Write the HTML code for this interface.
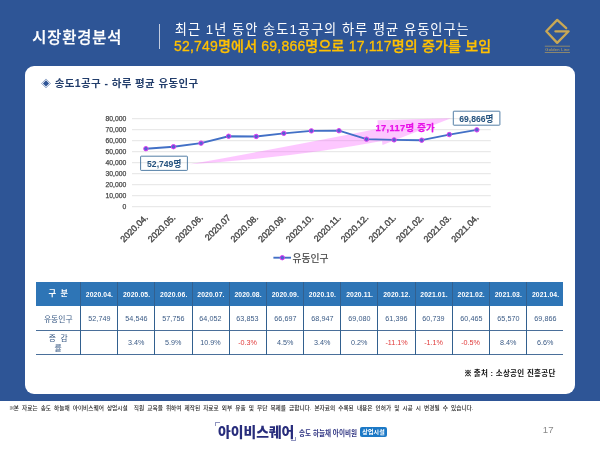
<!DOCTYPE html>
<html lang="ko">
<head>
<meta charset="utf-8">
<title>시장환경분석</title>
<style>
html,body{margin:0;padding:0;}
body{width:600px;height:450px;overflow:hidden;background:#fff;font-family:"Liberation Sans","Noto Sans CJK KR",sans-serif;}
#page{position:relative;width:600px;height:450px;overflow:hidden;background:#fff;}
#page *{box-sizing:border-box;}
.blue{position:absolute;left:0;top:0;width:600px;height:400.6px;background:#2e5596;}
.panel{position:absolute;left:25.2px;top:66.2px;width:549.5px;height:328px;background:#fff;border-radius:9px;}
.t{position:absolute;white-space:nowrap;line-height:1;}
.title{left:32.2px;top:29.7px;font-size:15.4px;font-weight:500;color:#fff;letter-spacing:0.85px;-webkit-text-stroke:0.25px #fff;}
.sep{position:absolute;left:159px;top:23.5px;width:1px;height:25.5px;background:#c3cce0;}
.h1{left:174.8px;top:22.6px;font-size:13.2px;color:#fff;letter-spacing:1.03px;}
.h2{left:174px;top:38.5px;font-size:14px;font-weight:500;color:#ffc000;letter-spacing:0.2px;-webkit-text-stroke:0.3px #ffc000;}
.ptitle{left:41.4px;top:78px;font-size:10.5px;font-weight:700;color:#223d6b;letter-spacing:0.38px;}
.ptitle span{display:inline-block;font-size:9.6px;color:#2f5597;font-weight:400;width:10.1px;letter-spacing:0;vertical-align:0.3px;}
.chart{position:absolute;left:0;top:0;}
.yl{font-size:6.8px;fill:#4a4a4a;stroke:#4a4a4a;stroke-width:0.25px;font-family:"Liberation Sans","Noto Sans CJK KR",sans-serif;}
.xl{font-size:8.9px;fill:#4a4a4a;stroke:#4a4a4a;stroke-width:0.4px;font-family:"Liberation Sans","Noto Sans CJK KR",sans-serif;}
.lg{font-size:9.8px;fill:#484848;stroke:#484848;stroke-width:0.2px;font-family:"Liberation Sans","Noto Sans CJK KR",sans-serif;}
.bx{font-size:8.6px;font-weight:700;fill:#24527f;font-family:"Liberation Sans","Noto Sans CJK KR",sans-serif;}
.inc{font-size:9.3px;font-weight:700;fill:#e811e8;stroke:#e811e8;stroke-width:0.25px;font-family:"Liberation Sans","Noto Sans CJK KR",sans-serif;letter-spacing:0.33px;}
.thead{position:absolute;left:36px;top:282px;width:527.3px;height:24px;background:#2e75b6;}
.hl{position:absolute;left:36px;width:527.3px;height:1px;background:#4a6f9a;}
.vl{position:absolute;top:282px;width:1px;height:72.5px;background:#32608f;}
.c{position:absolute;display:flex;align-items:center;justify-content:center;text-align:center;white-space:nowrap;line-height:1;}
.h0{color:#fff;font-weight:700;font-size:8.2px;letter-spacing:1.1px;padding-left:1px;}
.h{color:#fff;font-weight:700;font-size:6.8px;padding-top:2.4px;letter-spacing:0.1px;padding-left:0.6px;}
.r{color:#3a5a85;font-size:7.8px;padding-top:2.4px;}
.r2{line-height:1.28;letter-spacing:1.2px;padding-top:3.2px;padding-left:1px;}
.d{color:#3a5a85;font-size:8.1px;padding-top:0.6px;}
.d b{display:inline-block;font-weight:400;transform:scaleX(0.89);}
.d.n{color:#e03a3a;}
.src span{-webkit-text-stroke:0.35px #111;margin-right:-0.8px;}
.src{right:44.3px;top:369.8px;font-size:7.5px;font-weight:700;color:#111;letter-spacing:0.3px;}
.note{left:9px;top:405.8px;font-size:5.65px;font-weight:500;color:#262626;letter-spacing:0px;word-spacing:1.5px;white-space:pre;}
.note span{margin-right:-0.9px;}
.pg{left:542.8px;top:424.8px;font-size:9.6px;color:#8a8a8a;}
.f1{left:218px;top:425.6px;font-size:13.2px;font-weight:900;color:#282d7c;transform-origin:0 0;transform:scaleX(1.048);}
.fb{position:absolute;width:4.8px;height:4.4px;border:0 solid #8f94bf;}
.f2{left:299.4px;top:429.6px;font-size:7.6px;font-weight:700;color:#2f3482;transform-origin:0 0;transform:scaleX(0.865);}
.f3{left:360px;top:426.6px;width:27.2px;height:10px;background:#1c79c6;border-radius:2px;color:#fff;font-size:6px;font-weight:700;text-align:center;line-height:11.2px;letter-spacing:0.15px;}
.logo{position:absolute;left:540px;top:14px;}
.gl{font-family:"Liberation Sans",sans-serif;font-size:4.1px;letter-spacing:0.22px;fill:#c9a855;}
</style>
</head>
<body>
<div id="page">
<div class="blue"></div>
<div class="panel"></div>
<div class="t title">시장환경분석</div>
<div class="sep"></div>
<div class="t h1">최근 1년 동안 송도1공구의 하루 평균 유동인구는</div>
<div class="t h2">52,749명에서 69,866명으로 17,117명의 증가를 보임</div>
<svg class="logo" width="36" height="42" viewBox="540 14 36 42">
<path d="M566.2 28.2 L557.2 19.9 L546.3 31.3 L557.2 42.9 L568.6 31.3 L555.4 31.3" fill="none" stroke="#c9a855" stroke-width="2.3" stroke-linejoin="round" stroke-linecap="round"/>
<line x1="544.8" x2="570" y1="46.2" y2="46.2" stroke="#c9a855" stroke-width="0.6"/>
<line x1="544.8" x2="570" y1="52.5" y2="52.5" stroke="#c9a855" stroke-width="0.6"/>
<text x="557.6" y="50.75" text-anchor="middle" class="gl">Golden Line</text>
</svg>
<div class="t ptitle"><span>◈</span> 송도1공구 - 하루 평균 유동인구</div>
<svg class="chart" width="600" height="450" viewBox="0 0 600 450">
<line x1="132" x2="490.8" y1="206.70" y2="206.70" stroke="#e2e2e2" stroke-width="0.9"/>
<text x="126.3" y="209.40" text-anchor="end" class="yl">0</text>
<line x1="132" x2="490.8" y1="195.70" y2="195.70" stroke="#e2e2e2" stroke-width="0.9"/>
<text x="126.3" y="198.40" text-anchor="end" class="yl">10,000</text>
<line x1="132" x2="490.8" y1="184.70" y2="184.70" stroke="#e2e2e2" stroke-width="0.9"/>
<text x="126.3" y="187.40" text-anchor="end" class="yl">20,000</text>
<line x1="132" x2="490.8" y1="173.70" y2="173.70" stroke="#e2e2e2" stroke-width="0.9"/>
<text x="126.3" y="176.40" text-anchor="end" class="yl">30,000</text>
<line x1="132" x2="490.8" y1="162.70" y2="162.70" stroke="#e2e2e2" stroke-width="0.9"/>
<text x="126.3" y="165.40" text-anchor="end" class="yl">40,000</text>
<line x1="132" x2="490.8" y1="151.70" y2="151.70" stroke="#e2e2e2" stroke-width="0.9"/>
<text x="126.3" y="154.40" text-anchor="end" class="yl">50,000</text>
<line x1="132" x2="490.8" y1="140.70" y2="140.70" stroke="#e2e2e2" stroke-width="0.9"/>
<text x="126.3" y="143.40" text-anchor="end" class="yl">60,000</text>
<line x1="132" x2="490.8" y1="129.70" y2="129.70" stroke="#e2e2e2" stroke-width="0.9"/>
<text x="126.3" y="132.40" text-anchor="end" class="yl">70,000</text>
<line x1="132" x2="490.8" y1="118.70" y2="118.70" stroke="#e2e2e2" stroke-width="0.9"/>
<text x="126.3" y="121.40" text-anchor="end" class="yl">80,000</text>
<path d="M190 164.3 Q290 146.3 378 128.8 L377.5 120.3 L451 118.3 L382.5 145 L382 141 Q295 157.3 190 164.3 Z" fill="#f95cff" fill-opacity="0.34"/>
<polyline points="145.89,148.68 173.47,146.70 201.05,143.17 228.63,136.24 256.21,136.46 283.79,133.33 311.37,130.86 338.95,130.71 366.53,139.16 394.11,139.89 421.69,140.19 449.27,134.57 476.85,129.85" fill="none" stroke="#4270c6" stroke-width="1.9" stroke-linejoin="round" stroke-linecap="round"/>
<circle cx="145.89" cy="148.68" r="2.2" fill="#5560d2" stroke="#e03df2" stroke-width="1"/>
<circle cx="173.47" cy="146.70" r="2.2" fill="#5560d2" stroke="#e03df2" stroke-width="1"/>
<circle cx="201.05" cy="143.17" r="2.2" fill="#5560d2" stroke="#e03df2" stroke-width="1"/>
<circle cx="228.63" cy="136.24" r="2.2" fill="#5560d2" stroke="#e03df2" stroke-width="1"/>
<circle cx="256.21" cy="136.46" r="2.2" fill="#5560d2" stroke="#e03df2" stroke-width="1"/>
<circle cx="283.79" cy="133.33" r="2.2" fill="#5560d2" stroke="#e03df2" stroke-width="1"/>
<circle cx="311.37" cy="130.86" r="2.2" fill="#5560d2" stroke="#e03df2" stroke-width="1"/>
<circle cx="338.95" cy="130.71" r="2.2" fill="#5560d2" stroke="#e03df2" stroke-width="1"/>
<circle cx="366.53" cy="139.16" r="2.2" fill="#5560d2" stroke="#e03df2" stroke-width="1"/>
<circle cx="394.11" cy="139.89" r="2.2" fill="#5560d2" stroke="#e03df2" stroke-width="1"/>
<circle cx="421.69" cy="140.19" r="2.2" fill="#5560d2" stroke="#e03df2" stroke-width="1"/>
<circle cx="449.27" cy="134.57" r="2.2" fill="#5560d2" stroke="#e03df2" stroke-width="1"/>
<circle cx="476.85" cy="129.85" r="2.2" fill="#5560d2" stroke="#e03df2" stroke-width="1"/>
<text transform="translate(148.39 218.20) rotate(-45)" text-anchor="end" class="xl">2020.04.</text>
<text transform="translate(175.97 218.20) rotate(-45)" text-anchor="end" class="xl">2020.05.</text>
<text transform="translate(203.55 218.20) rotate(-45)" text-anchor="end" class="xl">2020.06.</text>
<text transform="translate(231.13 218.20) rotate(-45)" text-anchor="end" class="xl">2020.07</text>
<text transform="translate(258.71 218.20) rotate(-45)" text-anchor="end" class="xl">2020.08.</text>
<text transform="translate(286.29 218.20) rotate(-45)" text-anchor="end" class="xl">2020.09.</text>
<text transform="translate(313.87 218.20) rotate(-45)" text-anchor="end" class="xl">2020.10.</text>
<text transform="translate(341.45 218.20) rotate(-45)" text-anchor="end" class="xl">2020.11.</text>
<text transform="translate(369.03 218.20) rotate(-45)" text-anchor="end" class="xl">2020.12.</text>
<text transform="translate(396.61 218.20) rotate(-45)" text-anchor="end" class="xl">2021.01.</text>
<text transform="translate(424.19 218.20) rotate(-45)" text-anchor="end" class="xl">2021.02.</text>
<text transform="translate(451.77 218.20) rotate(-45)" text-anchor="end" class="xl">2021.03.</text>
<text transform="translate(479.35 218.20) rotate(-45)" text-anchor="end" class="xl">2021.04.</text>
<line x1="273.4" x2="291" y1="257.7" y2="257.7" stroke="#4270c6" stroke-width="1.9"/>
<circle cx="282.3" cy="257.7" r="2.2" fill="#5560d2" stroke="#e03df2" stroke-width="1"/>
<text x="292.5" y="262" class="lg">유동인구</text>
<rect x="140.6" y="156.2" width="46.8" height="14.2" rx="0.6" fill="none" stroke="#41719c" stroke-width="0.9"/>
<text x="164.2" y="167.2" text-anchor="middle" class="bx">52,749명</text>
<rect x="453.3" y="111.2" width="46.6" height="14" rx="0.6" fill="none" stroke="#41719c" stroke-width="0.9"/>
<text x="476.4" y="122" text-anchor="middle" class="bx">69,866명</text>
<text x="375.5" y="130.8" class="inc">17,117명 증가</text>
</svg>
<div class="thead"></div>
<div class="hl" style="top:330px"></div><div class="hl" style="top:354px"></div>
<div class="vl" style="left:80.00px"></div>
<div class="vl" style="left:117.18px"></div>
<div class="vl" style="left:154.36px"></div>
<div class="vl" style="left:191.54px"></div>
<div class="vl" style="left:228.72px"></div>
<div class="vl" style="left:265.90px"></div>
<div class="vl" style="left:303.08px"></div>
<div class="vl" style="left:340.26px"></div>
<div class="vl" style="left:377.44px"></div>
<div class="vl" style="left:414.62px"></div>
<div class="vl" style="left:451.80px"></div>
<div class="vl" style="left:488.98px"></div>
<div class="vl" style="left:526.16px"></div>
<div class="c h0" style="left:36px;width:44.5px;top:282px;height:24px">구 분</div>
<div class="c r" style="left:36px;width:44.5px;top:306px;height:24.5px">유동인구</div>
<div class="c r r2" style="left:36px;width:44.5px;top:330.5px;height:24px"><span>증 감<br>률</span></div>
<div class="c h" style="left:80.50px;width:37.18px;top:282px;height:24px">2020.04.</div>
<div class="c d" style="left:80.50px;width:37.18px;top:306px;height:24.5px"><b>52,749</b></div>
<div class="c h" style="left:117.68px;width:37.18px;top:282px;height:24px">2020.05.</div>
<div class="c d" style="left:117.68px;width:37.18px;top:306px;height:24.5px"><b>54,546</b></div>
<div class="c d" style="left:117.68px;width:37.18px;top:330.5px;height:24px"><b>3.4%</b></div>
<div class="c h" style="left:154.86px;width:37.18px;top:282px;height:24px">2020.06.</div>
<div class="c d" style="left:154.86px;width:37.18px;top:306px;height:24.5px"><b>57,756</b></div>
<div class="c d" style="left:154.86px;width:37.18px;top:330.5px;height:24px"><b>5.9%</b></div>
<div class="c h" style="left:192.04px;width:37.18px;top:282px;height:24px">2020.07.</div>
<div class="c d" style="left:192.04px;width:37.18px;top:306px;height:24.5px"><b>64,052</b></div>
<div class="c d" style="left:192.04px;width:37.18px;top:330.5px;height:24px"><b>10.9%</b></div>
<div class="c h" style="left:229.22px;width:37.18px;top:282px;height:24px">2020.08.</div>
<div class="c d" style="left:229.22px;width:37.18px;top:306px;height:24.5px"><b>63,853</b></div>
<div class="c d n" style="left:229.22px;width:37.18px;top:330.5px;height:24px"><b>-0.3%</b></div>
<div class="c h" style="left:266.40px;width:37.18px;top:282px;height:24px">2020.09.</div>
<div class="c d" style="left:266.40px;width:37.18px;top:306px;height:24.5px"><b>66,697</b></div>
<div class="c d" style="left:266.40px;width:37.18px;top:330.5px;height:24px"><b>4.5%</b></div>
<div class="c h" style="left:303.58px;width:37.18px;top:282px;height:24px">2020.10.</div>
<div class="c d" style="left:303.58px;width:37.18px;top:306px;height:24.5px"><b>68,947</b></div>
<div class="c d" style="left:303.58px;width:37.18px;top:330.5px;height:24px"><b>3.4%</b></div>
<div class="c h" style="left:340.76px;width:37.18px;top:282px;height:24px">2020.11.</div>
<div class="c d" style="left:340.76px;width:37.18px;top:306px;height:24.5px"><b>69,080</b></div>
<div class="c d" style="left:340.76px;width:37.18px;top:330.5px;height:24px"><b>0.2%</b></div>
<div class="c h" style="left:377.94px;width:37.18px;top:282px;height:24px">2020.12.</div>
<div class="c d" style="left:377.94px;width:37.18px;top:306px;height:24.5px"><b>61,396</b></div>
<div class="c d n" style="left:377.94px;width:37.18px;top:330.5px;height:24px"><b>-11.1%</b></div>
<div class="c h" style="left:415.12px;width:37.18px;top:282px;height:24px">2021.01.</div>
<div class="c d" style="left:415.12px;width:37.18px;top:306px;height:24.5px"><b>60,739</b></div>
<div class="c d n" style="left:415.12px;width:37.18px;top:330.5px;height:24px"><b>-1.1%</b></div>
<div class="c h" style="left:452.30px;width:37.18px;top:282px;height:24px">2021.02.</div>
<div class="c d" style="left:452.30px;width:37.18px;top:306px;height:24.5px"><b>60,465</b></div>
<div class="c d n" style="left:452.30px;width:37.18px;top:330.5px;height:24px"><b>-0.5%</b></div>
<div class="c h" style="left:489.48px;width:37.18px;top:282px;height:24px">2021.03.</div>
<div class="c d" style="left:489.48px;width:37.18px;top:306px;height:24.5px"><b>65,570</b></div>
<div class="c d" style="left:489.48px;width:37.18px;top:330.5px;height:24px"><b>8.4%</b></div>
<div class="c h" style="left:526.66px;width:37.18px;top:282px;height:24px">2021.04.</div>
<div class="c d" style="left:526.66px;width:37.18px;top:306px;height:24.5px"><b>69,866</b></div>
<div class="c d" style="left:526.66px;width:37.18px;top:330.5px;height:24px"><b>6.6%</b></div>
<div class="t src"><span>※</span> 출처 : 소상공인 진흥공단</div>
<div class="t note"><span>※</span>본 자료는 송도 하늘채 아이비스퀘어 상업시설  직원 교육을 위하여 제작된 자료로 외부 유출 및 무단 복제를 금합니다. 본자료의 수록된 내용은 인허가 및 시공 시 변경될 수 있습니다.</div>
<div class="fb" style="left:215.1px;top:422px;border-top-width:1px;border-left-width:1px"></div>
<div class="t f1">아이비스퀘어</div>
<div class="fb" style="left:291.4px;top:437px;height:3.7px;border-bottom-width:1px;border-right-width:1px"></div>
<div class="t f2">송도 하늘채 아이비원</div>
<div class="t f3">상업시설</div>
<div class="t pg">17</div>
</div>
</body>
</html>
